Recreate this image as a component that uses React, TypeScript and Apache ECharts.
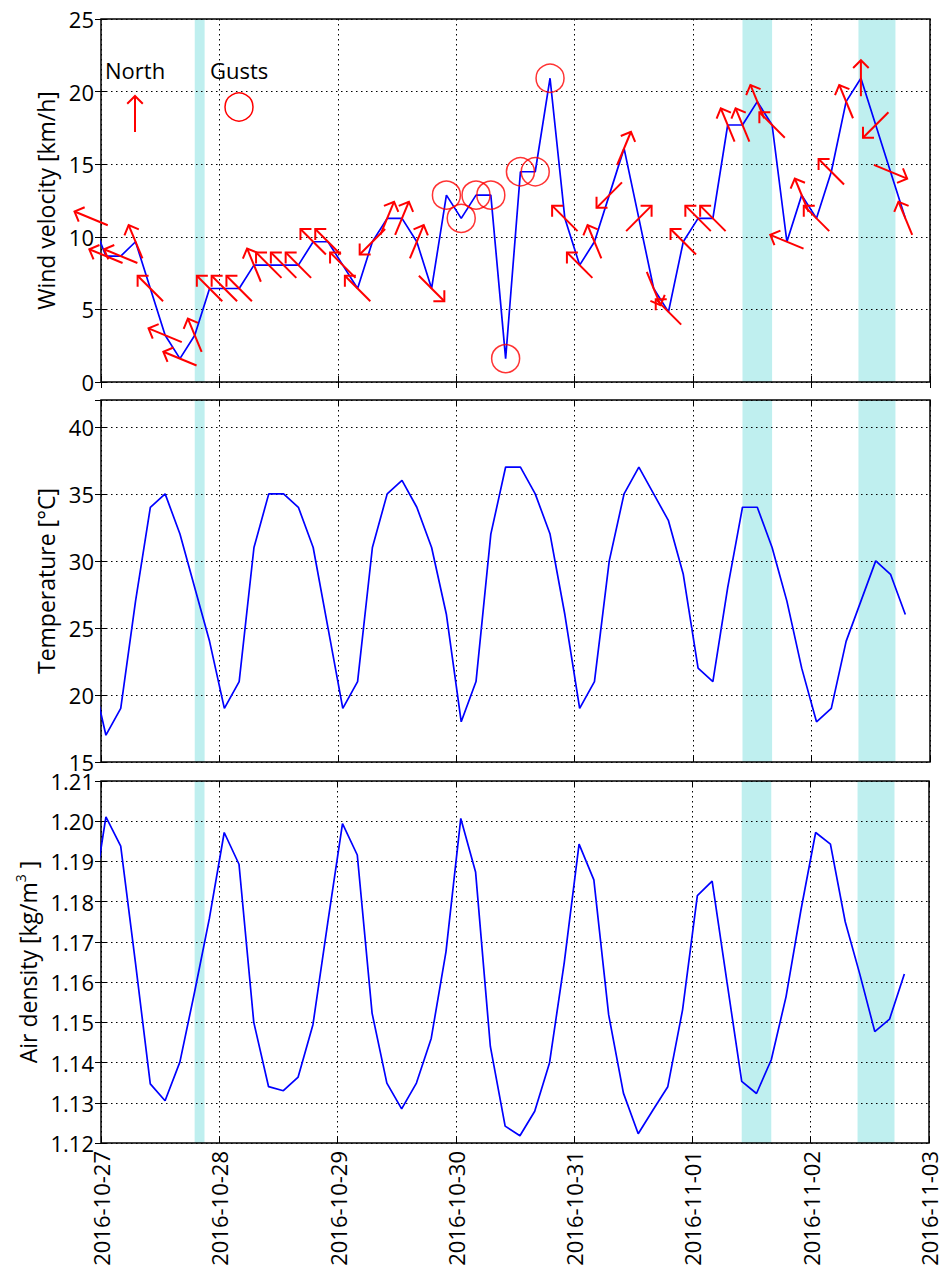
import React, { useEffect, useRef } from 'react';
import * as echarts from 'echarts';

// ---------- data ----------
const times = [
  '2016-10-26 22:00',
  '2016-10-27 01:00', '2016-10-27 04:00', '2016-10-27 07:00', '2016-10-27 10:00', '2016-10-27 13:00', '2016-10-27 16:00', '2016-10-27 19:00', '2016-10-27 22:00',
  '2016-10-28 01:00', '2016-10-28 04:00', '2016-10-28 07:00', '2016-10-28 10:00', '2016-10-28 13:00', '2016-10-28 16:00', '2016-10-28 19:00', '2016-10-28 22:00',
  '2016-10-29 01:00', '2016-10-29 04:00', '2016-10-29 07:00', '2016-10-29 10:00', '2016-10-29 13:00', '2016-10-29 16:00', '2016-10-29 19:00', '2016-10-29 22:00',
  '2016-10-30 01:00', '2016-10-30 04:00', '2016-10-30 07:00', '2016-10-30 10:00', '2016-10-30 13:00', '2016-10-30 16:00', '2016-10-30 19:00', '2016-10-30 22:00',
  '2016-10-31 01:00', '2016-10-31 04:00', '2016-10-31 07:00', '2016-10-31 10:00', '2016-10-31 13:00', '2016-10-31 16:00', '2016-10-31 19:00', '2016-10-31 22:00',
  '2016-11-01 01:00', '2016-11-01 04:00', '2016-11-01 07:00', '2016-11-01 10:00', '2016-11-01 13:00', '2016-11-01 16:00', '2016-11-01 19:00', '2016-11-01 22:00',
  '2016-11-02 01:00', '2016-11-02 04:00', '2016-11-02 07:00', '2016-11-02 10:00', '2016-11-02 13:00', '2016-11-02 16:00', '2016-11-02 19:00',
];

const windSpeed = [
  11.27,
  8.67, 8.67, 9.66, 6.44, 3.22, 1.61, 3.22, 6.44,
  6.44, 6.44, 8.05, 8.05, 8.05, 8.05, 9.66, 9.66,
  8.05, 6.44, 9.66, 11.27, 11.27, 9.66, 6.44, 12.87,
  11.27, 12.87, 12.87, 1.61, 14.48, 14.48, 20.92, 11.27,
  8.05, 9.66, 12.87, 16.09, 11.27, 6.44, 4.83, 9.66,
  11.27, 11.27, 17.7, 17.7, 19.31, 17.7, 9.66, 12.87,
  11.27, 14.48, 19.31, 20.92, 17.7, 14.48, 11.27,
];

// direction the wind comes from (null = no direction reported)
const windFrom = [
  'ESE',
  'ESE', 'ESE', 'SSE', 'SE', 'ESE', 'ESE', 'SSE', 'SE',
  'SE', 'SE', 'SSE', 'SE', 'SE', 'SE', 'SE', 'SE',
  'SE', 'SE', 'NE', 'SSW', 'SSW', 'SSW', 'NW', null,
  null, null, null, null, null, null, null, 'SE',
  'SE', 'SSE', 'NE', 'SSW', 'SW', 'NNW', 'SE', 'SE',
  'SE', 'SE', 'SSE', 'SSE', 'SSE', 'SE', 'ESE', 'SSE',
  'SE', 'SE', 'SSE', 'S', 'NE', 'WNW', 'SSE',
];

const temperature = [
  21.8,
  17, 19, 27, 34, 35, 32, 28, 24,
  19, 21, 31, 35, 35, 34, 31, 25,
  19, 21, 31, 35, 36, 34, 31, 26,
  18, 21, 32, 37, 37, 35, 32, 26,
  19, 21, 30, 35, 37, 35, 33, 29,
  22, 21, 28, 34, 34, 31, 27, 22,
  18, 19, 24, 27, 30, 29, 26,
];

const airDensity = [
  1.1775,
  1.2011, 1.1938, 1.1647, 1.1347, 1.1305, 1.1401, 1.1576, 1.1759,
  1.1972, 1.1893, 1.1500, 1.1340, 1.1330, 1.1364, 1.1494, 1.1747,
  1.1994, 1.1916, 1.1523, 1.1349, 1.1285, 1.1349, 1.1460, 1.1676,
  1.2007, 1.1874, 1.1440, 1.1242, 1.1218, 1.1279, 1.1399, 1.1649,
  1.1943, 1.1854, 1.1519, 1.1324, 1.1223, 1.1282, 1.1340, 1.1531,
  1.1815, 1.1851, 1.1601, 1.1353, 1.1323, 1.1407, 1.1564, 1.1778,
  1.1972, 1.1943, 1.1750, 1.1618, 1.1477, 1.1508, 1.1620,
];

const gustTimes = [
  '2016-10-29 22:00', '2016-10-30 01:00', '2016-10-30 04:00', '2016-10-30 07:00',
  '2016-10-30 10:00', '2016-10-30 13:00', '2016-10-30 16:00', '2016-10-30 19:00',
];
const gustSpeed = [12.87, 11.27, 12.87, 12.87, 1.61, 14.48, 14.48, 20.92];

const highlightSpans = [
  ['2016-10-27 19:00', '2016-10-27 21:00'],
  ['2016-11-01 10:00', '2016-11-01 16:00'],
  ['2016-11-02 09:30', '2016-11-02 17:00'],
];

const axisStart = '2016-10-27 00:00';
const axisEnd = '2016-11-03 00:00';

const compass: Record<string, number> = {
  N: 0, NNE: 22.5, NE: 45, ENE: 67.5, E: 90, ESE: 112.5, SE: 135, SSE: 157.5,
  S: 180, SSW: 202.5, SW: 225, WSW: 247.5, W: 270, WNW: 292.5, NW: 315, NNW: 337.5,
};

// ---------- helpers ----------
const toMs = (s: string) => Date.parse(s.replace(' ', 'T') + ':00Z');
const base = toMs(axisStart);
const toH = (s: string) => (toMs(s) - base) / 3600000;
const fmtDay = (h: number) => new Date(base + h * 3600000).toISOString().slice(0, 10);

const FONT = '"Open Sans", "DejaVu Sans", sans-serif';
const RED = '#ff0000';
const BLUE = '#0000ff';
const SPAN = '#bfefef';
const ARROW_LEN = 36;
const HEAD_LEN = 11;

function arrowShapes(cx: number, cy: number, bearing: number) {
  const r = (bearing * Math.PI) / 180;
  const dx = Math.sin(r);
  const dy = -Math.cos(r);
  const hx = cx + (dx * ARROW_LEN) / 2;
  const hy = cy + (dy * ARROW_LEN) / 2;
  const tx = cx - (dx * ARROW_LEN) / 2;
  const ty = cy - (dy * ARROW_LEN) / 2;
  const bx = -dx;
  const by = -dy;
  const c = Math.cos(Math.PI / 4);
  const s = Math.sin(Math.PI / 4);
  const p1 = [hx + HEAD_LEN * (bx * c - by * s), hy + HEAD_LEN * (bx * s + by * c)];
  const p2 = [hx + HEAD_LEN * (bx * c + by * s), hy + HEAD_LEN * (-bx * s + by * c)];
  const style = { stroke: RED, lineWidth: 2, fill: 'none', lineCap: 'butt' };
  return [
    { type: 'line', shape: { x1: tx, y1: ty, x2: hx, y2: hy }, style },
    { type: 'polyline', shape: { points: [p1, [hx, hy], p2] }, style },
  ];
}

const GRID_LEFT = 101;
const GRID_W = 829;
const grids = [
  { top: 19, height: 363 },
  { top: 400, height: 362 },
  { top: 781, height: 362 },
];

export default function App() {
  const ref = useRef<HTMLDivElement>(null);

  useEffect(() => {
    if (!ref.current) return;
    const chart = echarts.init(ref.current, null, { renderer: 'svg' });

    const hours = times.map(toH);
    const xMax = toH(axisEnd);

    const windData = hours.map((h, i) => [h, windSpeed[i]]);
    const tempData = hours.map((h, i) => [h, temperature[i]]);
    const densData = hours.map((h, i) => [h, airDensity[i]]);
    const arrowData = hours
      .map((h, i) => (windFrom[i] ? [h, windSpeed[i], (compass[windFrom[i] as string] + 180) % 360] : null))
      .filter((d) => d !== null);
    const gustData = gustTimes.map((t, i) => [toH(t), gustSpeed[i]]);
    const spanAreas = highlightSpans.map(([a, b]) => [{ xAxis: toH(a) }, { xAxis: toH(b) }]);

    const tickStyle = { show: true, inside: true, length: 6, lineStyle: { color: '#000', width: 1 } };
    const gridLine = { show: true, lineStyle: { color: '#000', width: 1, type: [1.5, 3.5] } };
    const labelStyle = { color: '#000', fontSize: 22, fontFamily: FONT };

    const xAxes: any[] = [];
    const yAxes: any[] = [];
    grids.forEach((g, i) => {
      xAxes.push({
        type: 'value', gridIndex: i, min: 0, max: xMax, interval: 24, z: 3,
        axisLine: { show: false }, axisTick: tickStyle, splitLine: gridLine,
        axisLabel: i === 2
          ? { ...labelStyle, rotate: 90, margin: 8, formatter: (v: number) => fmtDay(v) }
          : { show: false },
      });
    });
    grids.forEach((g, i) => {
      xAxes.push({
        type: 'value', gridIndex: i, position: 'top', min: 0, max: xMax, interval: 24, z: 3,
        axisLine: { show: false }, axisTick: tickStyle, splitLine: { show: false }, axisLabel: { show: false },
      });
    });

    const yDefs = [
      { min: 0, max: 25, interval: 5, name: 'Wind velocity [km/h]', fmt: (v: number) => String(v), showMax: true },
      { min: 15, max: 42, interval: 5, name: 'Temperature [°C]', fmt: (v: number) => String(v), showMax: false },
      { min: 1.12, max: 1.21, interval: 0.01, name: 'Air density [kg/m{sup|3} ]', fmt: (v: number) => v.toFixed(2), showMax: true },
    ];
    yDefs.forEach((d, i) => {
      yAxes.push({
        type: 'value', gridIndex: i, min: d.min, max: d.max, interval: d.interval, z: 3,
        axisLine: { show: false }, axisTick: tickStyle, splitLine: gridLine,
        axisLabel: { ...labelStyle, margin: 7, formatter: d.fmt, showMaxLabel: d.showMax, showMinLabel: true },
        name: d.name, nameLocation: 'middle', nameRotate: 90, nameGap: 44,
        nameTextStyle: {
          color: '#000', fontSize: 23, fontFamily: FONT,
          rich: { sup: { fontSize: 14, fontFamily: FONT, color: '#000', verticalAlign: 'top', lineHeight: 30 } },
        },
      });
    });
    yDefs.forEach((d, i) => {
      yAxes.push({
        type: 'value', gridIndex: i, position: 'right', min: d.min, max: d.max, interval: d.interval, z: 3,
        axisLine: { show: false }, axisTick: tickStyle, splitLine: { show: false }, axisLabel: { show: false },
      });
    });

    const spanSeries = (i: number, data: number[][]) => ({
      type: 'line', xAxisIndex: i, yAxisIndex: i, data, z: 1, silent: true,
      showSymbol: false, symbol: 'none', lineStyle: { opacity: 0, width: 0 },
      markArea: { silent: true, itemStyle: { color: SPAN }, data: spanAreas },
    });

    const lineSeries = (i: number, data: number[][]) => ({
      type: 'line', xAxisIndex: i, yAxisIndex: i, data, z: 4, symbol: 'none', showSymbol: false,
      lineStyle: { color: BLUE, width: 1.7 }, clip: true,
    });

    const option: any = {
      animation: false,
      backgroundColor: '#fff',
      grid: grids.map((g) => ({
        left: GRID_LEFT, width: GRID_W, top: g.top, height: g.height,
        show: true, borderColor: '#000', borderWidth: 1.5, backgroundColor: 'transparent', z: 3,
      })),
      xAxis: xAxes,
      yAxis: yAxes,
      series: [
        spanSeries(0, windData),
        spanSeries(1, tempData),
        spanSeries(2, densData),
        lineSeries(0, windData),
        lineSeries(1, tempData),
        lineSeries(2, densData),
        {
          type: 'scatter', xAxisIndex: 0, yAxisIndex: 0, data: gustData, z: 5,
          symbol: 'circle', symbolSize: 28,
          itemStyle: { color: 'rgba(0,0,0,0)', borderColor: RED, borderWidth: 1.5 },
        },
        {
          type: 'custom', xAxisIndex: 0, yAxisIndex: 0, data: arrowData, z: 6, clip: false,
          renderItem: (_p: any, api: any) => {
            const c = api.coord([api.value(0), api.value(1)]);
            return { type: 'group', children: arrowShapes(c[0], c[1], api.value(2)) };
          },
        },
      ],
      graphic: [
        { type: 'text', x: 105, y: 70, z: 10, style: { text: 'North', font: `22px ${FONT}`, fill: '#000', verticalAlign: 'middle' } },
        { type: 'text', x: 210, y: 70, z: 10, style: { text: 'Gusts', font: `22px ${FONT}`, fill: '#000', verticalAlign: 'middle' } },
        { type: 'group', z: 10, children: arrowShapes(135, 114, 0) },
        { type: 'circle', z: 10, shape: { cx: 239, cy: 107, r: 14 }, style: { fill: 'none', stroke: RED, lineWidth: 1.5 } },
      ],
    };

    chart.setOption(option);
    return () => chart.dispose();
  }, []);

  return (
    <div
      ref={ref}
      style={{ position: 'absolute', left: 0, top: 0, width: 940, height: 1272, background: '#fff' }}
    />
  );
}
